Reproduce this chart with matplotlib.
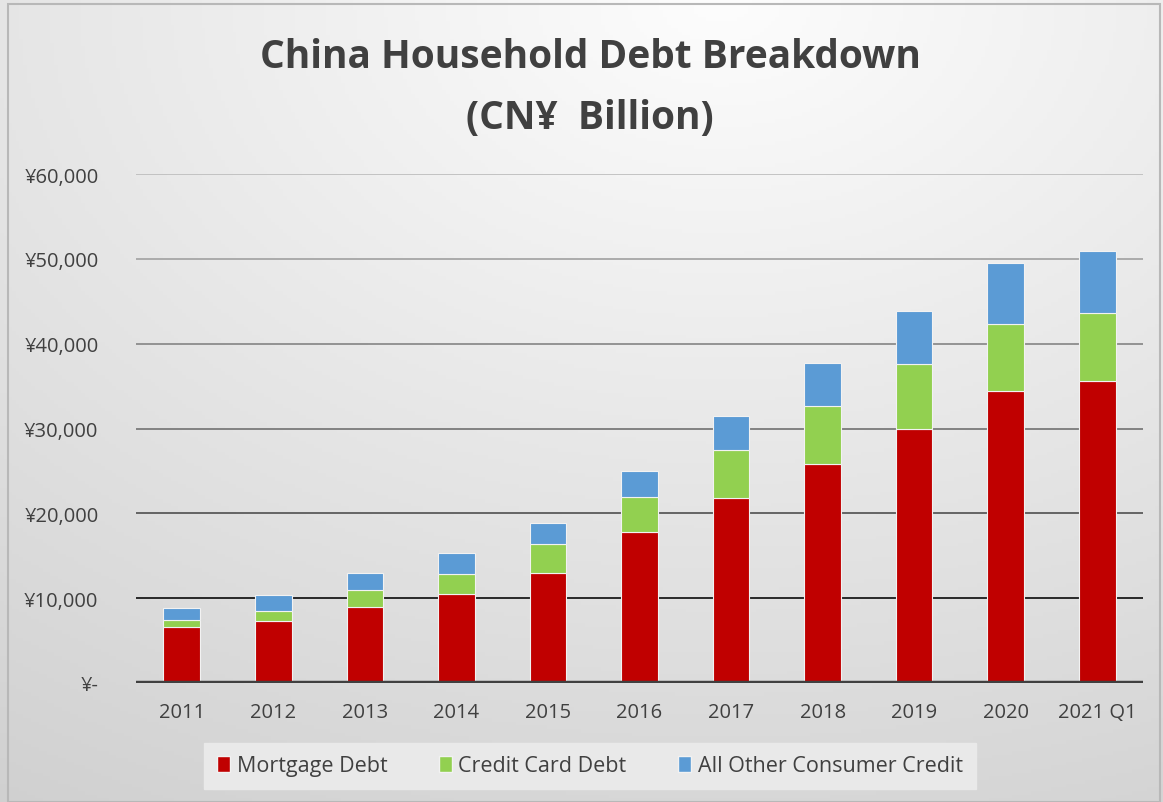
import matplotlib
matplotlib.use("Agg")
import matplotlib.pyplot as plt
from matplotlib.patches import Rectangle, Patch
import numpy as np

# Data (CN¥ billion)
years = ["2011", "2012", "2013", "2014", "2015", "2016", "2017", "2018", "2019", "2020", "2021 Q1"]
mortgage = [6600, 7330, 8930, 10500, 12970, 17830, 21850, 25790, 29960, 34370, 35630]
credit_card = [860, 1140, 1980, 2350, 3430, 4100, 5630, 6810, 7640, 7950, 7950]
other_credit = [1390, 1940, 2030, 2450, 2500, 3030, 4020, 5160, 6260, 7210, 7320]

series_names = ["Mortgage Debt", "Credit Card Debt", "All Other Consumer Credit"]
colors = ["#C00000", "#92D050", "#5B9BD5"]
yticks = [0, 10000, 20000, 30000, 40000, 50000, 60000]
grid_colors = ["#404040", "#1a1a1a", "#5a5a5a", "#7a7a7a", "#8c8c8c", "#a6a6a6", "#bfbfbf"]

plt.rcParams['font.family'] = ['Open Sans', 'DejaVu Sans']

W, H = 1163, 803
fig = plt.figure(figsize=(W / 100, H / 100), dpi=100)

# background gradient (light at top centre, grey towards the bottom)
bg = fig.add_axes([0, 0, 1, 1], zorder=-10)
xx, yy = np.meshgrid(np.linspace(0, 1, 300), np.linspace(0, 1, 220))
d = np.sqrt((xx - 0.62) ** 2 + (yy * 1.0) ** 2)
shade = np.clip(253 - 38 * d, 200, 255) / 255.0
bg.imshow(np.dstack([shade, shade, shade]), extent=[0, 1, 0, 1], origin="upper",
          aspect="auto")
bg.set_xlim(0, 1)
bg.set_ylim(0, 1)
bg.axis("off")

# outer chart border
fig.patches.append(Rectangle((8 / W, 0), (1160 - 8) / W, (H - 5) / H, transform=fig.transFigure,
                             fill=False, edgecolor="#b8b8b8", linewidth=1.5, zorder=5))

ax = fig.add_axes([136 / W, (H - 684) / H, (1143 - 136) / W, (684 - 175) / H])
ax.patch.set_alpha(0)

x = np.arange(len(years))
bottom = np.zeros(len(years))
for vals, name, col in zip([mortgage, credit_card, other_credit], series_names, colors):
    ax.bar(x, vals, 0.4, bottom=bottom, color=col, edgecolor="#f2f2f2", linewidth=0.8,
           label=name, zorder=3)
    bottom += np.array(vals)

for yt, gc in zip(yticks, grid_colors):
    if yt == 0:
        ax.axhline(yt, color=gc, linewidth=3.2, zorder=4)
    else:
        ax.axhline(yt, color=gc, linewidth=1.3, zorder=1)

ax.set_ylim(0, 60000)
ax.set_xlim(-0.5, len(years) - 0.5)
ax.set_yticks(yticks)
ax.set_yticklabels(["¥-" if v == 0 else "¥{:,}".format(v) for v in yticks])
ax.set_xticks(x)
ax.set_xticklabels(years)
ax.tick_params(axis="both", length=0, labelsize=14.5, colors="#404040")
ax.tick_params(axis="y", pad=27)
ax.tick_params(axis="x", pad=14)
for s in ax.spines.values():
    s.set_visible(False)

fig.text(590 / W, 1 - 58 / H, "China Household Debt Breakdown", ha="center", va="center",
         fontsize=28, fontweight="bold", color="#404040")
fig.text(590 / W, 1 - 118 / H, "(CN¥  Billion)", ha="center", va="center",
         fontsize=28, fontweight="bold", color="#404040")

handles = [Patch(facecolor=c, edgecolor="#f2f2f2") for c in colors]
leg = fig.legend(handles, series_names, loc="center", bbox_to_anchor=(590 / W, 1 - 767 / H),
                 ncol=3, fontsize=15.5, frameon=True, handlelength=0.6, handleheight=0.8,
                 handletextpad=0.3, columnspacing=2.4, borderpad=0.6, labelcolor="#404040")
leg.get_frame().set_facecolor("#e9e9e9")
leg.get_frame().set_edgecolor("#e9e9e9")
leg.get_frame().set_alpha(1)
leg.get_frame().set_boxstyle("square", pad=0)

fig.savefig("out.png", dpi=100)
